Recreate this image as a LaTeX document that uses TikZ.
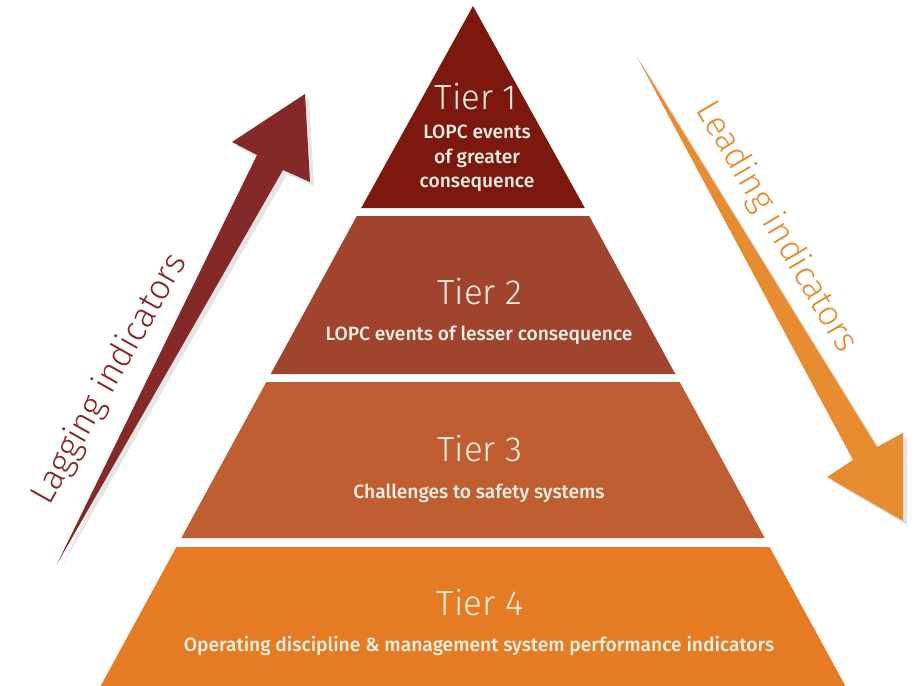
\documentclass[tikz,border=0pt]{standalone}
\usepackage{fontspec}
\IfFontExistsTF{Fira Sans Light}
  {\newfontfamily\tierfont{Fira Sans Light}}
  {\newfontfamily\tierfont{Fira Sans}}
\IfFontExistsTF{Fira Sans Medium}
  {\newfontfamily\subfont{Fira Sans Medium}}
  {\newfontfamily\subfont{Fira Sans}[FakeBold=0.6]}
\IfFontExistsTF{Fira Sans Light}
  {\newfontfamily\arrfont{Fira Sans Light}}
  {\newfontfamily\arrfont{Fira Sans}}
\definecolor{tone}{RGB}{124,24,14}
\definecolor{ttwo}{RGB}{160,68,46}
\definecolor{tthree}{RGB}{191,94,48}
\definecolor{tfour}{RGB}{229,123,35}
\definecolor{lagc}{RGB}{133,40,40}
\definecolor{leadc}{RGB}{232,140,50}
\definecolor{txt}{RGB}{252,241,232}
\begin{document}
\begin{tikzpicture}[x=1bp,y=-1bp,
  tiertitle/.style={font=\tierfont\fontsize{35}{35}\selectfont, text=txt, anchor=base, inner sep=0pt},
  tiersub/.style={font=\subfont\fontsize{19.3}{24.5}\selectfont, text=txt, anchor=base, inner sep=0pt, align=center},
  arrlabel/.style={font=\arrfont\fontsize{35}{35}\selectfont, anchor=base, inner sep=0pt},
  shadowfill/.style={fill=black, opacity=0.10}
]
\useasboundingbox (0,0) rectangle (922,686);
\fill[white] (0,0) rectangle (922,686);

% pyramid tiers
\fill[tone]   (473,6) -- (584.8,208) -- (361.2,208) -- cycle;
\fill[ttwo]   (356.8,216) -- (589.2,216) -- (675.3,374) -- (270.7,374) -- cycle;
\fill[tthree] (266.3,382) -- (679.7,382) -- (764.7,538) -- (181.3,538) -- cycle;
\fill[tfour]  (176.4,547) -- (769.6,547) -- (847.5,690) -- (98.5,690) -- cycle;

% lagging arrow (with faint shadow)
\fill[shadowfill] (61,568) -- (261,159) -- (236,146) -- (309,98) -- (314,186) -- (287,174) -- cycle;
\fill[lagc] (57,564) -- (257,155) -- (232,142) -- (305,94) -- (310,182) -- (283,170) -- cycle;

% leading arrow (with faint shadow)
\fill[shadowfill] (641,61) -- (857,464) -- (831,481) -- (907,525) -- (907,437) -- (881,451) -- cycle;
\fill[leadc] (637,57) -- (853,460) -- (827,477) -- (903,521) -- (903,433) -- (877,447) -- cycle;

% arrow labels
\node[arrlabel, text=lagc, rotate=60.6] (lag) at (118,384) {Lagging indicators};
\node[arrlabel, text=leadc, rotate=-59.5] (lead) at (768,232) {Leading indicators};

% tier texts
\node[tiertitle] (t1h) at (476,110) {Tier 1};
\node[tiersub, anchor=north] (t1s) at (477,125) {LOPC events\\of greater\\consequence};
\node[tiertitle] (t2h) at (480,304) {Tier 2};
\node[tiersub] (t2s) at (479,340) {LOPC events of lesser consequence};
\node[tiertitle] (t3h) at (480,461) {Tier 3};
\node[tiersub] (t3s) at (479,498) {Challenges to safety systems};
\node[tiertitle] (t4h) at (480,615) {Tier 4};
\node[tiersub] (t4s) at (479,651) {Operating discipline \& management system performance indicators};
\end{tikzpicture}
\end{document}
